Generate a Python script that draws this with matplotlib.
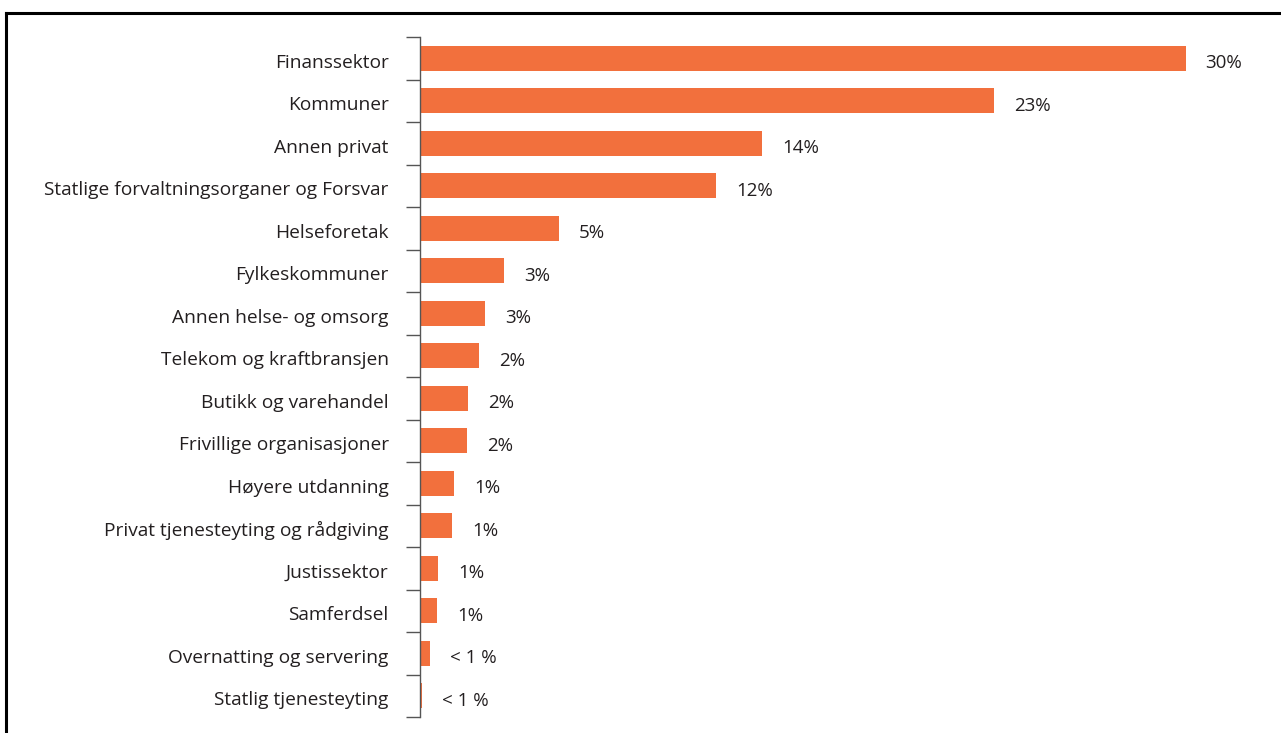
import matplotlib
matplotlib.use("Agg")
import matplotlib.pyplot as plt
from matplotlib.lines import Line2D
from matplotlib.transforms import ScaledTranslation
import numpy as np

categories = [
    "Finanssektor", "Kommuner", "Annen privat",
    "Statlige forvaltningsorganer og Forsvar", "Helseforetak",
    "Fylkeskommuner", "Annen helse- og omsorg", "Telekom og kraftbransjen",
    "Butikk og varehandel", "Frivillige organisasjoner", "Høyere utdanning",
    "Privat tjenesteyting og rådgiving", "Justissektor", "Samferdsel",
    "Overnatting og servering", "Statlig tjenesteyting",
]
values = [30.0, 22.5, 13.4, 11.6, 5.45, 3.3, 2.55, 2.3, 1.9, 1.85, 1.33,
          1.25, 0.7, 0.67, 0.4, 0.06]
labels = ["30%", "23%", "14%", "12%", "5%", "3%", "3%", "2%", "2%", "2%",
          "1%", "1%", "1%", "1%", "< 1 %", "< 1 %"]

plt.rcParams['font.family'] = ['Open Sans', 'DejaVu Sans']

W, H = 1281, 733
fig = plt.figure(figsize=(W / 100, H / 100), dpi=100)
ax = fig.add_axes([420 / W, (H - 717) / H, (1275 - 420) / W, (717 - 37) / H])

y = np.arange(len(categories))
ax.barh(y, values, height=0.59, color="#F2703D")
ax.set_xlim(0, 33.5)
ax.set_ylim(len(categories) - 0.5, -0.5)

for yi, v, lab in zip(y, values, labels):
    ax.annotate(lab, xy=(v, yi), xytext=(20, -5), textcoords="offset pixels",
                ha="left", va="center", fontsize=13.5, color="#231F20")

for s in ["top", "right", "bottom"]:
    ax.spines[s].set_visible(False)
ax.spines["left"].set_color("#555555")
ax.spines["left"].set_linewidth(1.0)
ax.set_xticks([])
ax.set_yticks(np.arange(-0.5, len(categories), 1.0))
ax.set_yticklabels([])
ax.set_yticks(y, minor=True)
ax.set_yticklabels(categories, minor=True, fontsize=13.8, color="#231F20")
ax.tick_params(axis="y", which="major", length=10, color="#555555", width=1.0)
ax.tick_params(axis="y", which="minor", length=0, pad=22.5)
shift = ScaledTranslation(0, -0.025, fig.dpi_scale_trans)
for t in ax.get_yticklabels(minor=True):
    t.set_transform(t.get_transform() + shift)

# figure frame (top and left lines)
fig.add_artist(Line2D([6 / W, 1], [1 - 13 / H, 1 - 13 / H], transform=fig.transFigure, color="black", lw=2.2))
fig.add_artist(Line2D([6 / W, 6 / W], [0, 1 - 13 / H], transform=fig.transFigure, color="black", lw=2.2))

fig.savefig("out.png", dpi=100)
